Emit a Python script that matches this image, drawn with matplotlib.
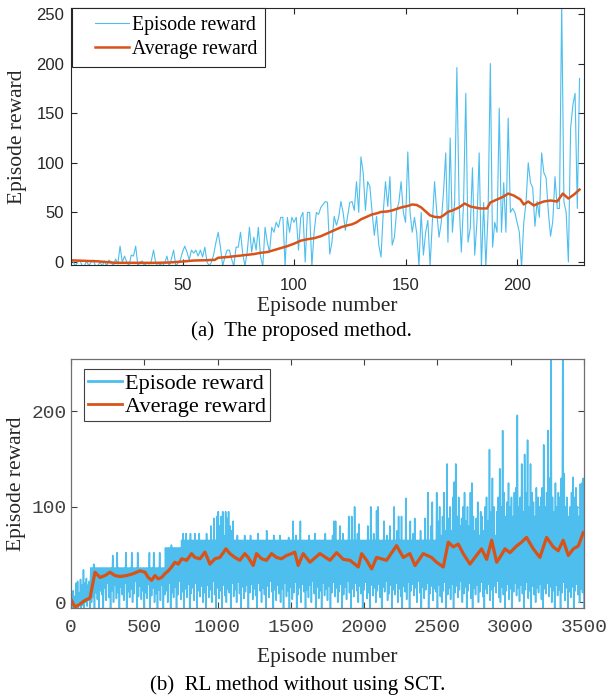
import numpy as np
import matplotlib
matplotlib.use("Agg")
import matplotlib.pyplot as plt
from matplotlib.legend_handler import HandlerLine2D

# ---------------- data: (a) proposed method ----------------
top_reward = [
    0, -4, 0, 2, -4, -4, 1, -4, 0, 2, -4, -4, 0, -4, 1, -4, 2, 0, -4, 3,
    -2, 16, 0, 6, 0, -4, 7, 6, 16, -4, 0, 1, -4, 0, -2, 1, 12, -1, -4, -2,
    -4, -1, 6, -4, 3, 12, -4, -1, 2, 10, 16, 10, 2, 12, 9, 12, 6, 12, 5, 15,
    0, -4, 0, 8, 20, 30, 15, -4, 5, 12, 12, 3, -4, 15, 15, 30, 8, -4, 10, 35,
    10, 25, 12, 35, 5, -4, 35, 20, 10, 35, 30, 40, 35, 45, 45, -4, 45, 30, 45, 40,
    45, 12, 45, 50, 0, 50, 50, -4, 30, 50, 48, 55, 58, 61, 60, 8, 20, 46, 37, 45,
    61, 50, 32, 46, 60, 61, 52, 81, 50, 106, 90, 52, 81, 76, 50, 27, 46, 17, 5, 50,
    81, 56, 86, 17, 25, 52, 60, 81, 50, 40, 111, 50, 30, 45, 29, -4, 50, 7, 30, 42,
    -4, 40, 81, 50, 25, 40, 70, 110, 20, 125, 30, 60, 196, 60, 10, 60, 170, 20, 34, 95,
    7, 40, 110, -5, 60, -5, 50, 200, 15, 40, 30, 155, 30, 80, 30, 145, 50, 54, 50, 40,
    30, -5, 40, 60, 100, 80, 75, 36, 61, 45, 110, 90, 85, 51, 26, 41, 86, 54, 54, 260,
    61, 50, 0, 135, 158, 170, 54, 185,
]
top_episode = np.arange(1, len(top_reward) + 1)

top_avg_ep = [1, 6, 12, 20, 28, 36, 44, 50, 55, 60,
              64.5, 66, 70, 74, 78, 82, 85, 88, 91, 94,
              97, 100, 103, 106, 109, 112, 115, 118, 121, 124,
              126, 128, 130, 133, 135, 137, 139, 142, 144, 146,
              148, 151, 153, 155, 157, 159, 161, 163, 165.5, 167,
              169, 171, 174, 176.5, 179, 181, 183.5, 186.5, 188, 191,
              194, 196, 198.5, 201.5, 203, 205, 207.5, 209.5, 212, 215,
              218, 220.5, 223, 225.5, 228]
top_avg = [1.6, 1.2, 0.7, -0.8, -0.8, -0.9, -0.5, 0.5, 1.5, 1.8,
           2.2, 4.3, 5, 6, 7, 8, 9.3, 10, 12, 14,
           16, 18.5, 21.5, 23, 24, 26, 29, 32, 35, 37,
           38, 40, 43, 46, 48, 49, 50.5, 51, 52, 53.5,
           55, 56.5, 58, 57.5, 55, 51, 47, 45.5, 45, 47,
           50.5, 52, 55, 59, 56, 55, 54, 54, 60, 63,
           66, 69, 67, 63, 58, 61, 57, 59, 61, 62,
           61, 69, 64, 68, 73]

# ---------------- data: (b) RL without SCT ----------------
# dense episode reward, read as alternating high / low values every 5 episodes
bot_high = [
    4, 12, 6, 20, 22, 10, 24, 18, 34, 20,
    25, 18, 22, 36, 36, 40, 36, 36, 36, 36,
    36, 36, 36, 36, 36, 36, 36, 36, 49, 36,
    36, 52, 36, 36, 36, 36, 36, 52, 36, 36,
    36, 52, 36, 36, 36, 52, 36, 36, 36, 36,
    36, 36, 36, 52, 36, 36, 52, 36, 36, 36,
    52, 36, 36, 36, 57, 57, 57, 57, 60, 57,
    57, 57, 57, 57, 57, 65, 72, 65, 72, 65,
    65, 72, 65, 65, 72, 65, 65, 72, 65, 65,
    65, 65, 72, 65, 65, 80, 65, 88, 65, 90,
    95, 80, 90, 95, 70, 95, 88, 95, 80, 75,
    85, 65, 65, 70, 65, 65, 65, 65, 70, 65,
    65, 65, 70, 65, 65, 65, 65, 72, 65, 65,
    65, 65, 65, 75, 65, 65, 65, 65, 70, 65,
    65, 65, 70, 65, 65, 65, 65, 65, 68, 65,
    65, 85, 65, 70, 65, 65, 85, 65, 65, 65,
    65, 65, 70, 65, 65, 65, 72, 65, 65, 65,
    65, 65, 65, 72, 65, 65, 65, 65, 70, 85,
    85, 65, 65, 80, 65, 72, 65, 65, 65, 90,
    65, 90, 65, 100, 65, 72, 82, 65, 65, 65,
    65, 65, 80, 65, 100, 65, 72, 65, 96, 100,
    65, 65, 65, 85, 65, 70, 65, 80, 65, 65,
    100, 65, 75, 90, 65, 90, 65, 65, 109, 65,
    65, 85, 65, 72, 88, 65, 65, 65, 75, 65,
    65, 88, 65, 115, 65, 80, 105, 65, 65, 115,
    85, 100, 70, 90, 115, 75, 145, 88, 100, 75,
    110, 126, 145, 90, 110, 80, 88, 100, 115, 85,
    100, 80, 115, 125, 90, 75, 88, 105, 70, 95,
    90, 75, 100, 110, 85, 160, 95, 130, 100, 70,
    95, 110, 140, 100, 180, 115, 90, 105, 125, 100,
    110, 90, 115, 120, 196, 100, 110, 145, 95, 155,
    115, 170, 100, 145, 115, 105, 90, 120, 110, 100,
    110, 120, 165, 100, 115, 180, 130, 260, 110, 95,
    125, 100, 115, 110, 130, 260, 135, 100, 110, 90,
    100, 115, 131, 110, 120, 100, 90, 124, 125, 130,
]
bot_low = [
    -6, -6, -4, -6, -6, -2, -6, -3, -6, 0,
    -4, 2, -6, 0, 5, -6, 10, 3, -6, 12,
    8, -6, 15, 2, 20, 5, -6, 12, 0, 18,
    4, 10, -6, 16, 8, 2, 20, -6, 11, 5,
    14, 0, 9, 22, -6, 6, 17, 3, 12, -6,
    10, 4, 19, -6, 7, 15, 0, 9, -6, 13,
    2, 18, -6, 8, 12, 0, 20, -6, 10, 5,
    16, -6, 8, 22, 3, 11, -6, 14, 5, 19,
    -6, 9, 15, 2, 20, -6, 12, 6, 17, 0,
    10, -6, 18, 5, 13, 0, 22, 8, -6, 15,
    4, 12, -6, 18, 7, 0, 14, 10, -6, 20,
    6, 13, 0, 21, 9, -6, 16, 4, 11, 18,
    -6, 10, 19, 3, 14, 7, -6, 20, 12, 0,
    15, 8, -6, 17, 5, 22, 11, -6, 13, 2,
    18, 9, 0, 14, -6, 20, 6, 12, -6, 16,
    3, 10, 21, -6, 8, 15, 0, 19, 11, -6,
    13, 5, 18, 0, 22, 9, -6, 16, 4, 12,
    -6, 20, 7, 14, 2, 17, -6, 10, 21, 6,
    15, 0, 11, 19, -6, 8, 16, 3, 22, 10,
    -6, 14, 6, 20, 12, 0, 17, 9, -6, 13,
    21, 4, 10, -6, 18, 7, 15, 0, 12, 19,
    5, -6, 16, 11, 22, 2, 9, 18, -6, 13,
    8, 20, 0, 14, 6, -6, 17, 11, 3, 21,
    -6, 12, 19, 7, 15, 0, 22, 10, -6, 16,
    4, 13, 20, -6, 9, 17, 2, 14, 11, -6,
    18, 6, 0, 12, 21, -6, 8, 15, 3, 19,
    -6, 10, 17, 5, 13, 22, 0, 9, 16, -6,
    12, 20, 4, -6, 15, 8, 18, 0, 11, 21,
    6, -6, 14, 9, 19, 2, 13, -6, 17, 10,
    22, 5, 0, 16, 8, -6, 12, 19, 3, 14,
    -6, 11, 20, 7, 15, 1, 18, 9, -6, 13,
    21, 4, 12, -6, 17, 8, 0, 15, 10, 19,
    3, -6, 14, 9, 20, 6, 16, 0, 12, -6,
    18, 7, 13, -6, 10, 21, 2, 15, -6, 11,
    5, 16, -6, 12, 19, 8, 0, 14, 10, -6,
]
bot_ep_high = np.arange(5, 3500, 10)
bot_ep_low = np.arange(10, 3501, 10)

bot_avg_ep = [0, 27, 61, 95, 130, 145, 164, 198, 232, 266,
              300, 334, 380, 425, 470, 505, 527, 550, 573, 595,
              618, 641, 664, 686, 709, 732, 755, 789, 823, 845,
              880, 914, 948, 982, 1016, 1057, 1084, 1118, 1152, 1186,
              1209, 1243, 1266, 1300, 1334, 1368, 1402, 1436, 1470, 1505,
              1527, 1550, 1584, 1630, 1698, 1767, 1812, 1858, 1903, 1960,
              1983, 2017, 2051, 2085, 2153, 2221, 2267, 2312, 2347, 2403,
              2460, 2494, 2540, 2574, 2608, 2642, 2676, 2722, 2756, 2801,
              2836, 2870, 2904, 2926, 2961, 2995, 3040, 3074, 3108, 3154,
              3199, 3245, 3290, 3324, 3358, 3393, 3427, 3461, 3495]
bot_avg = [3, -5, -2, 2, 4.5, 17, 31.5, 26, 28, 31.5,
           28, 27, 28, 30, 33, 31.5, 26, 23, 28, 24.5,
           26, 30, 33, 37, 42, 40, 45.6, 44, 51, 47,
           45.6, 52.6, 40, 45.6, 47, 56, 51, 47, 44, 51,
           47, 38.6, 51, 45.6, 44, 51, 47, 45.6, 49, 51,
           52.6, 38.6, 51, 42, 51, 44, 52, 45, 44, 37,
           51, 44, 35, 47, 44, 59.4, 47, 51, 38.5, 51,
           47, 42, 37, 63, 58, 61, 51, 40, 47, 56,
           45, 65, 42, 47, 56, 52, 59, 63, 68, 56,
           47, 68, 58, 54, 65, 49, 56, 59, 73]

top_xticks = [50, 100, 150, 200]
top_yticks = [0, 50, 100, 150, 200, 250]
bot_xticks = [0, 500, 1000, 1500, 2000, 2500, 3000, 3500]
bot_yticks = [0, 100, 200]
legend_labels = ["Episode reward", "Average reward"]

BLUE = "#4DBEEE"
ORANGE = "#D95319"
SERIF = "Liberation Serif"


class OffsetLine(HandlerLine2D):
    def __init__(self, start_frac=0.0, **kw):
        super().__init__(**kw)
        self.start_frac = start_frac

    def create_artists(self, legend, orig_handle, xdescent, ydescent,
                       width, height, fontsize, trans):
        arts = super().create_artists(legend, orig_handle, xdescent, ydescent,
                                      width, height, fontsize, trans)
        for a in arts:
            xd = np.asarray(a.get_xdata(), float)
            if xd.size >= 2:
                x0, x1 = xd.min(), xd.max()
                a.set_xdata(np.linspace(x0 + self.start_frac * (x1 - x0), x1, xd.size))
        return arts


W, H = 612, 700
fig = plt.figure(figsize=(W / 100, H / 100), dpi=100)


def frac_box(l, t, r, b):
    return [l / W, 1 - b / H, (r - l) / W, (b - t) / H]


# ---------------- top panel ----------------
ax1 = fig.add_axes(frac_box(71, 8, 584, 265))
l1, = ax1.plot(top_episode, top_reward, color=BLUE, lw=0.8)
l2, = ax1.plot(top_avg_ep, top_avg, color=ORANGE, lw=1.8)
ax1.set_xlim(0, 230)
ax1.set_ylim(-3, 256)
ax1.set_xticks(top_xticks)
ax1.set_yticks(top_yticks)
ax1.tick_params(direction="in", length=4, width=0.8, top=True, right=True,
                colors="#262626", labelsize=12)
ax1.tick_params(axis="x", pad=9)
ax1.tick_params(axis="y", pad=5)
for lab in ax1.get_xticklabels() + ax1.get_yticklabels():
    lab.set_fontfamily("Liberation Sans")
for s in ax1.spines.values():
    s.set_color("#262626")
    s.set_linewidth(0.8)
ax1.set_xlabel("Episode number", fontfamily=SERIF, fontsize=15.5, color="#262626")
ax1.xaxis.set_label_coords(0.5, -0.16)
ax1.xaxis.label.set_va("center")
ax1.set_ylabel("Episode reward", fontfamily=SERIF, fontsize=15.5, color="#262626")
ax1.yaxis.set_label_coords(-0.104, 0.5)
ax1.yaxis.label.set_va("center")
leg1 = ax1.legend([l1, l2], legend_labels, loc="upper left",
                  bbox_to_anchor=(0.002, 1.0), borderaxespad=0,
                  prop={"family": SERIF, "size": 14.2},
                  handlelength=2.5, handletextpad=0.15, borderpad=0.4,
                  labelspacing=0.25, fancybox=False, framealpha=1,
                  edgecolor="#262626",
                  handler_map={l1: OffsetLine(0.3), l2: OffsetLine(0.3)})
leg1.get_frame().set_linewidth(0.8)

fig.text(301 / W, 1 - 331 / H, "(a)  The proposed method.", ha="center",
         va="center", fontfamily=SERIF, fontsize=15, color="black")

# ---------------- bottom panel ----------------
ax2 = fig.add_axes(frac_box(71, 359, 584, 608))
bx = np.column_stack([bot_ep_high, bot_ep_low]).ravel()
by = np.column_stack([bot_high, bot_low]).ravel()
m1, = ax2.plot(bx, by, color=BLUE, lw=1.15)
m2, = ax2.plot(bot_avg_ep, bot_avg, color=ORANGE, lw=2.3)
ax2.set_xlim(0, 3500)
ax2.set_ylim(-6, 255)
ax2.set_xticks(bot_xticks)
ax2.set_yticks(bot_yticks)
ax2.tick_params(direction="in", length=4, width=0.8, top=True, right=True,
                colors="#404040", labelsize=14)
ax2.tick_params(axis="x", pad=8)
ax2.tick_params(axis="y", pad=3)
for lab in ax2.get_xticklabels() + ax2.get_yticklabels():
    lab.set_fontfamily("Liberation Mono")
for s in ax2.spines.values():
    s.set_color("#707070")
    s.set_linewidth(0.9)
ax2.set_xlabel("Episode number", fontfamily=SERIF, fontsize=15.5, color="#262626")
ax2.xaxis.set_label_coords(0.5, -0.198)
ax2.xaxis.label.set_va("center")
ax2.set_ylabel("Episode reward", fontfamily=SERIF, fontsize=15.5, color="#262626")
ax2.yaxis.set_label_coords(-0.107, 0.5)
ax2.yaxis.label.set_va("center")
leg2 = ax2.legend([m1, m2], legend_labels, loc="upper left",
                  bbox_to_anchor=(0.025, 0.96), borderaxespad=0,
                  prop={"family": SERIF, "size": 16},
                  handlelength=1.5, handletextpad=0.15, borderpad=0.2,
                  labelspacing=0.1, fancybox=False, framealpha=1,
                  edgecolor="#404040")
leg2.get_frame().set_linewidth(0.8)
for h in leg2.get_lines():
    h.set_linewidth(2.0)

fig.text(298 / W, 1 - 685 / H, "(b)  RL method without using SCT.", ha="center",
         va="center", fontfamily=SERIF, fontsize=15, color="black")

fig.savefig("out.png", dpi=100)
